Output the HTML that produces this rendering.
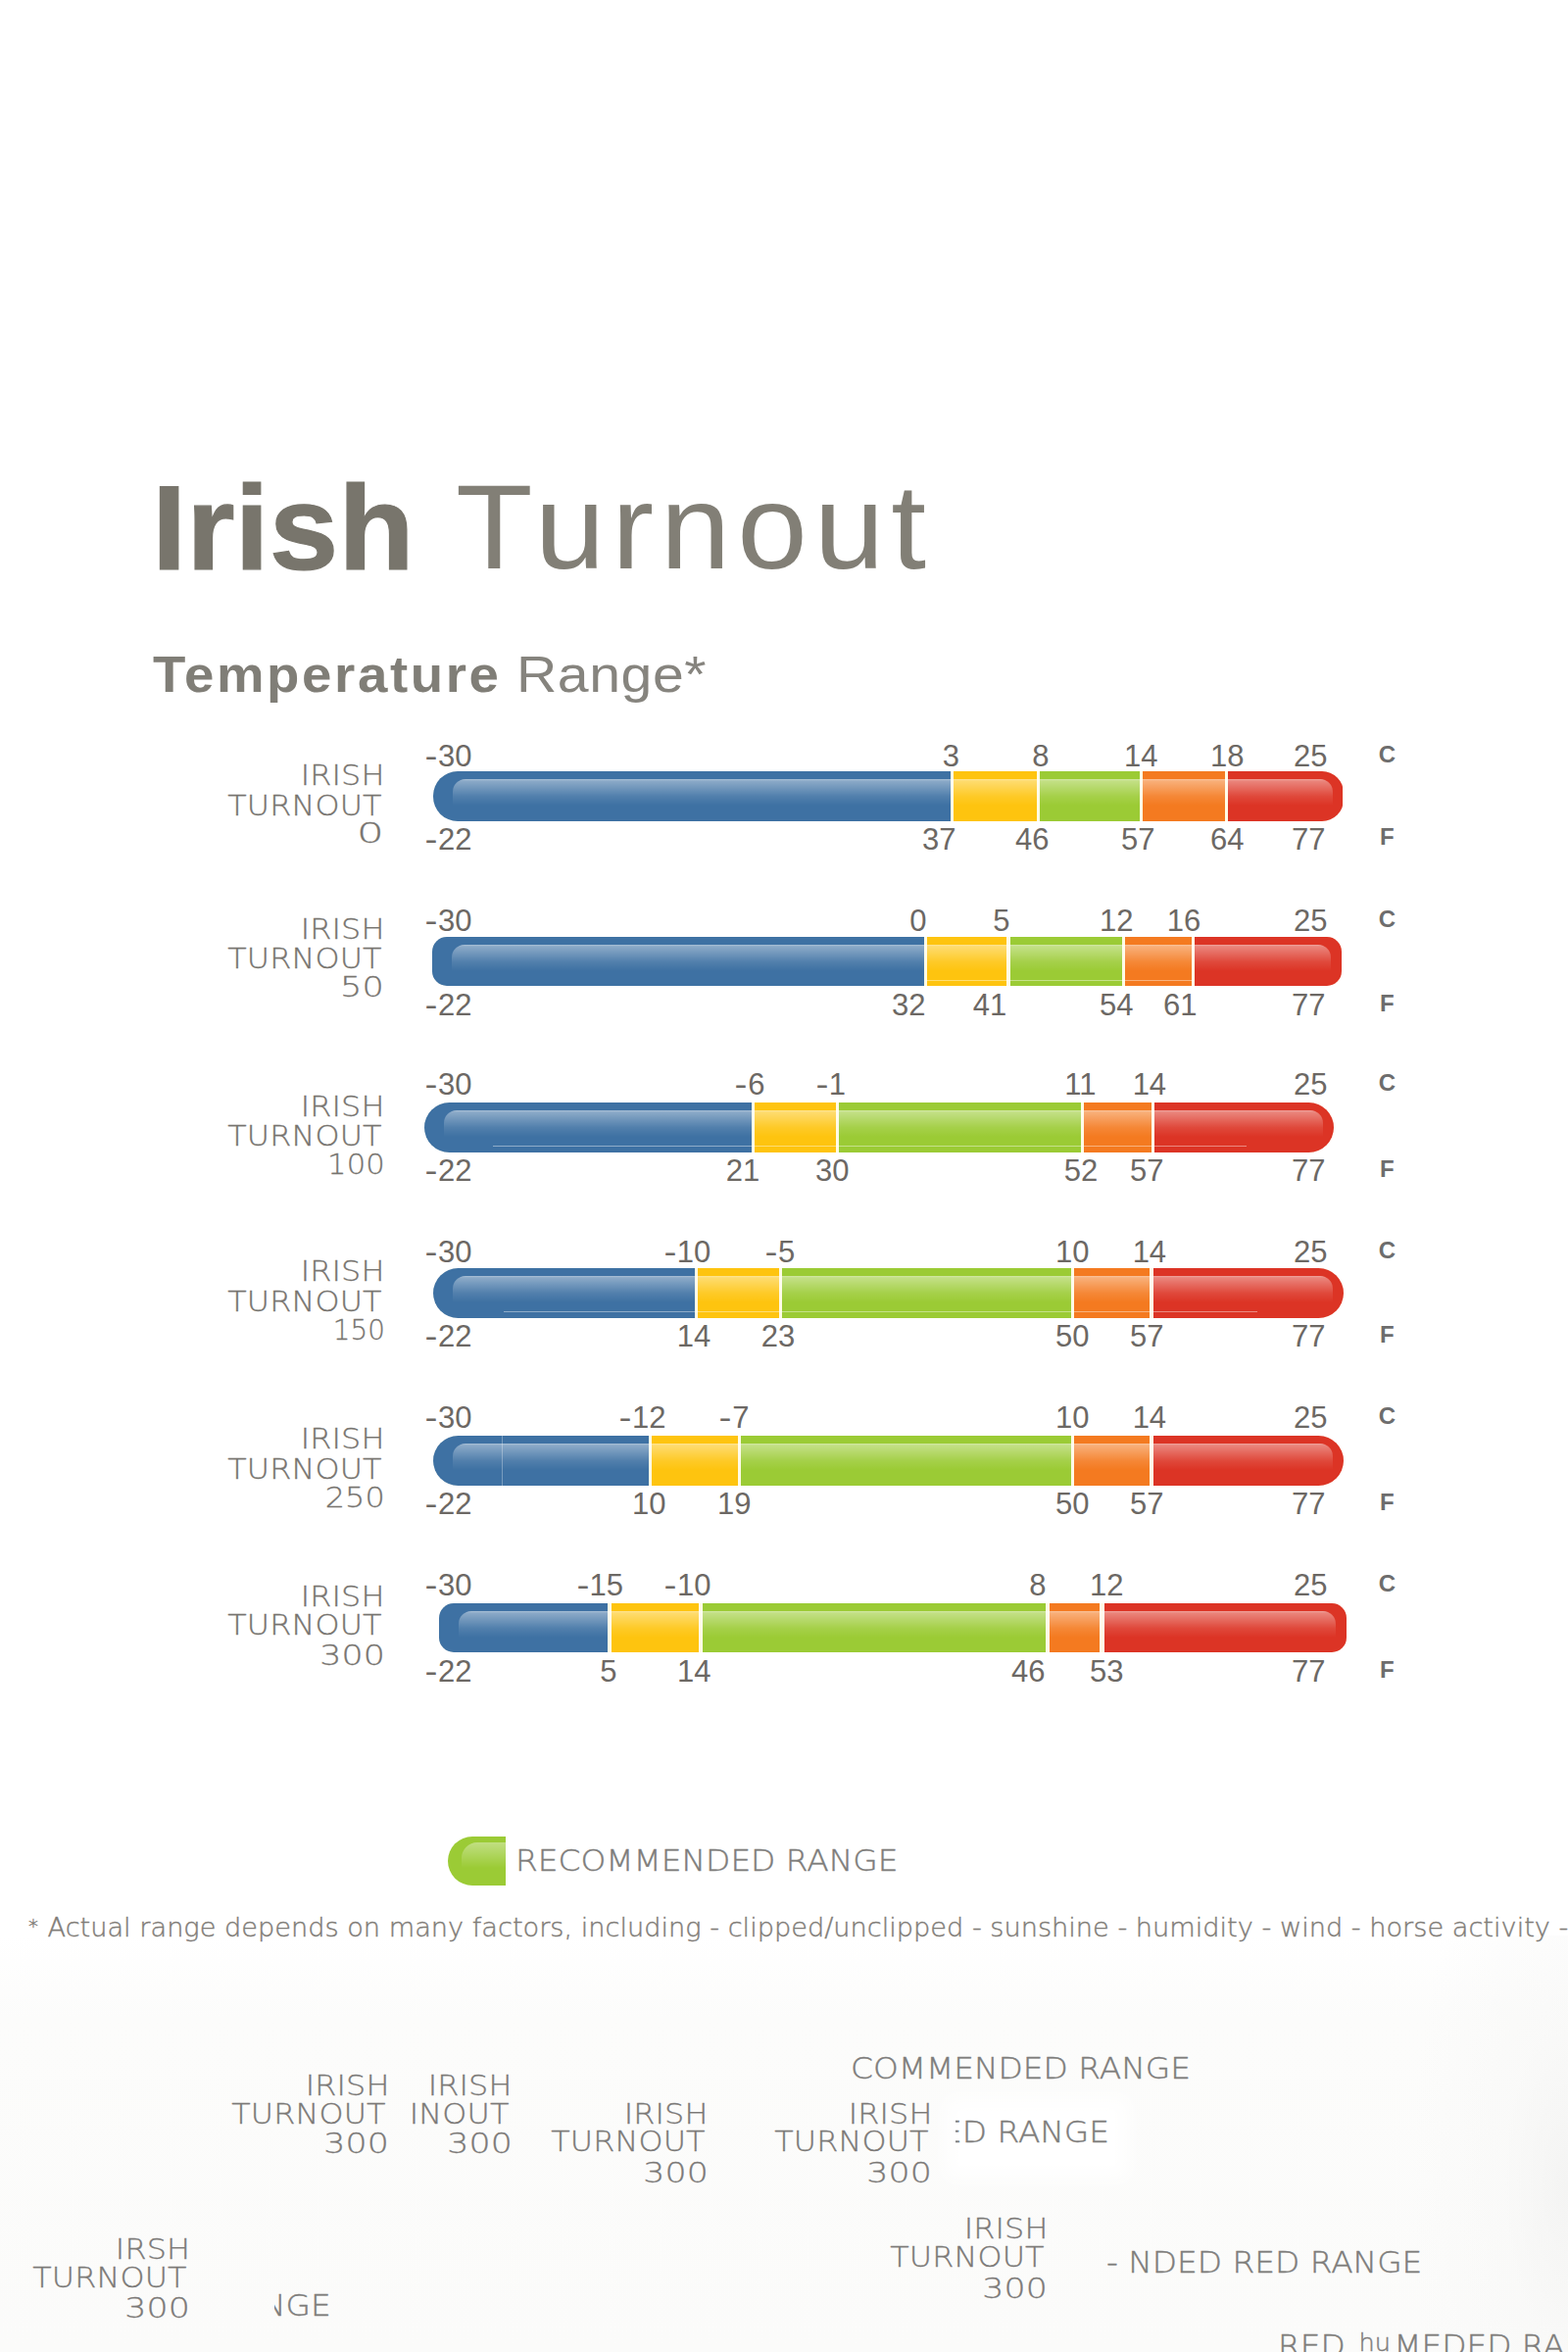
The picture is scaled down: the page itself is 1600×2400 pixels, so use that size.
<!DOCTYPE html>
<html lang="en"><head><meta charset="utf-8"><title>Irish Turnout Temperature Range</title>
<style>
html,body{margin:0;padding:0}
body{width:1600px;height:2400px;position:relative;overflow:hidden;background:#fff;font-family:"Liberation Sans",sans-serif}
.bg{position:absolute;left:0;top:1975px;width:1600px;height:425px;background:radial-gradient(ellipse 160px 420px at 100% 60%,rgba(243,243,242,.9) 0,rgba(247,247,246,.5) 40%,rgba(251,251,250,0) 100%),linear-gradient(180deg,#ffffff 0,#fcfcfb 20%,#fbfbfa 100%)}
.t1,.t2,.s1,.s2,.lab,.n,.u,.leg,.fn,.g{position:absolute;white-space:nowrap;line-height:1;margin:0}
.t1{left:155px;top:478.4px;font-size:122.5px;font-weight:bold;color:#78756c;-webkit-text-stroke:1.2px #78756c;transform:scaleX(1.035);transform-origin:0 0}
.t2{left:464.5px;top:476.6px;font-size:122px;color:#827f76;letter-spacing:6.5px;transform:scaleX(1.055);transform-origin:0 0}
.s1{left:155.8px;top:662.3px;font-size:52px;font-weight:bold;color:#807e77;letter-spacing:2.5px;transform:scaleX(1.05);transform-origin:0 0}
.s2{left:527px;top:662.3px;font-size:52px;color:#86847e;letter-spacing:.5px;transform:scaleX(1.1);transform-origin:0 0}
.bar{position:absolute;overflow:hidden}
.bar i{position:absolute;top:0;bottom:0;display:block}
.bar{background:#fffbe6}
.gl{position:absolute;left:20px;right:11px;top:8px;height:27px;border-radius:13px 13px 0 0;background:linear-gradient(180deg,rgba(255,255,255,.56) 0,rgba(255,255,255,.4) 7%,rgba(255,255,255,.27) 32%,rgba(255,255,255,.1) 65%,rgba(255,255,255,0) 100%)}
.lab{right:1211px;font-family:"DejaVu Sans","Liberation Sans",sans-serif;font-weight:200;font-size:28px;color:#77746f;-webkit-text-stroke:.3px #77746f;letter-spacing:.15px;text-align:right;transform:scaleX(1.136);transform-origin:100% 50%}
.n .h{display:inline-block;transform:scaleX(1.25);transform-origin:100% 50%;margin-right:.5px}
.n{font-size:31px;color:#6c6864;text-align:right;transform:translateY(-26.24px)}
.u{left:1406.8px;font-size:24px;font-weight:bold;color:#6d6d6d;transform:translateY(-20.3px)}
.lg{position:absolute;left:456.5px;top:1874px;width:59px;height:50px;border-radius:25px 0 0 25px;background:#9bcb35;overflow:hidden}
.lg b{position:absolute;left:14px;right:0;top:6px;height:26px;border-radius:16px 0 0 0;background:linear-gradient(180deg,rgba(255,255,255,.38) 0,rgba(255,255,255,0) 100%)}
.leg{left:525.5px;top:1884px;font-family:"DejaVu Sans","Liberation Sans",sans-serif;font-weight:200;font-size:30.7px;color:#7e7d7b;-webkit-text-stroke:.4px #7e7d7b;transform:scaleX(1.069);transform-origin:0 0}
.fn{left:29.3px;top:1953.2px;font-family:"DejaVu Sans","Liberation Sans",sans-serif;font-weight:200;font-size:27.4px;color:#7f7c77;-webkit-text-stroke:.4px #7f7c77;transform:scaleX(.992);transform-origin:0 0}
.g{font-family:"DejaVu Sans","Liberation Sans",sans-serif;font-weight:200;font-size:27.5px;color:#7d7b78;letter-spacing:1.5px;text-align:right;line-height:29.6px;white-space:pre}
.g2{color:#7b7977;-webkit-text-stroke-color:#7b7977}
.wb{position:absolute;left:978px;top:2154px;width:160px;height:56px;background:rgba(255,255,255,.85);box-shadow:0 0 18px 14px rgba(255,255,255,.85)}
.gr small{font-size:24px;vertical-align:5px;margin:0 3px}
.ast{font-size:20px;vertical-align:4px;margin-right:1px}
.ln{position:absolute;height:1px;background:rgba(255,255,255,.42)}
.clip{position:absolute;overflow:hidden;height:40px}
.gr{position:absolute;white-space:nowrap;line-height:1;font-family:"DejaVu Sans","Liberation Sans",sans-serif;font-weight:200;font-size:30.7px;color:#7e7d7b;-webkit-text-stroke:.4px #7e7d7b;transform:scaleX(1.069);transform-origin:0 0}
</style></head><body>
<div class="bg"></div>
<h1 class="t1">Irish</h1><div class="t2">Turnout</div>
<h2 class="s1">Temperature</h2><div class="s2">Range*</div>
<div class="bar" style="left:442px;top:787.2px;width:928.5px;height:50.8px;border-radius:25px 22px 22px 25px">
<i style="left:0.0px;width:527.5px;background:#3e71a3"></i>
<i style="left:530.5px;width:85.5px;background:#fec40f"></i>
<i style="left:619.0px;width:101.8px;background:#9bcb35"></i>
<i style="left:723.8px;width:84.4px;background:#f47a20"></i>
<i style="left:811.2px;width:117.3px;background:#dc3425"></i>
<b class="gl"></b></div>
<div class="lab" style="top:777.5px;right:1207.2px">IRISH</div>
<div class="lab" style="top:808.5px;right:1210.6px">TURNOUT</div>
<div class="lab" style="top:836.6px;right:1207.6px;transform:scaleX(1.556)">0</div>
<div class="n" style="right:1118.5px;top:782.0px"><span class="h">-</span>30</div>
<div class="n" style="right:621.0px;top:782.0px">3</div>
<div class="n" style="right:529.5px;top:782.0px">8</div>
<div class="n" style="right:418.5px;top:782.0px">14</div>
<div class="n" style="right:330.5px;top:782.0px">18</div>
<div class="n" style="right:245.5px;top:782.0px">25</div>
<div class="n" style="right:1118.5px;top:866.5px"><span class="h">-</span>22</div>
<div class="n" style="right:624.5px;top:866.5px">37</div>
<div class="n" style="right:529.5px;top:866.5px">46</div>
<div class="n" style="right:421.5px;top:866.5px">57</div>
<div class="n" style="right:330.5px;top:866.5px">64</div>
<div class="n" style="right:247.5px;top:866.5px">77</div>
<div class="u" style="top:778.4px">C</div>
<div class="u" style="top:862.1px;left:1408px">F</div>
<div class="bar" style="left:440.5px;top:956px;width:928.5px;height:49.5px;border-radius:15px 15px 15px 15px">
<i style="left:0.0px;width:502.8px;background:#3e71a3"></i>
<i style="left:505.8px;width:81.2px;background:#fec40f"></i>
<i style="left:590.0px;width:114.0px;background:#9bcb35"></i>
<i style="left:707.0px;width:68.5px;background:#f47a20"></i>
<i style="left:778.5px;width:150.0px;background:#dc3425"></i>
<b class="gl"></b></div>
<div class="lab" style="top:934.6px;right:1207.2px">IRISH</div>
<div class="lab" style="top:965.0px;right:1210.6px">TURNOUT</div>
<div class="lab" style="top:993.7px;right:1207.6px;transform:scaleX(1.250)">50</div>
<div class="n" style="right:1118.5px;top:949.5px"><span class="h">-</span>30</div>
<div class="n" style="right:654.5px;top:949.5px">0</div>
<div class="n" style="right:569.5px;top:949.5px">5</div>
<div class="n" style="right:443.5px;top:949.5px">12</div>
<div class="n" style="right:374.8px;top:949.5px">16</div>
<div class="n" style="right:245.5px;top:949.5px">25</div>
<div class="n" style="right:1118.5px;top:1036.0px"><span class="h">-</span>22</div>
<div class="n" style="right:655.5px;top:1036.0px">32</div>
<div class="n" style="right:572.8px;top:1036.0px">41</div>
<div class="n" style="right:443.5px;top:1036.0px">54</div>
<div class="n" style="right:378.5px;top:1036.0px">61</div>
<div class="n" style="right:247.5px;top:1036.0px">77</div>
<div class="u" style="top:945.9px">C</div>
<div class="u" style="top:1031.6px;left:1408px">F</div>
<div class="bar" style="left:432.7px;top:1125px;width:928.8px;height:51.0px;border-radius:25.5px 25.5px 25.5px 25.5px">
<i style="left:0.0px;width:334.3px;background:#3e71a3"></i>
<i style="left:337.3px;width:83.5px;background:#fec40f"></i>
<i style="left:423.8px;width:247.0px;background:#9bcb35"></i>
<i style="left:673.8px;width:69.0px;background:#f47a20"></i>
<i style="left:745.8px;width:183.0px;background:#dc3425"></i>
<b class="gl"></b></div>
<div class="lab" style="top:1115.5px;right:1207.2px">IRISH</div>
<div class="lab" style="top:1146.2px;right:1210.6px">TURNOUT</div>
<div class="lab" style="top:1175.2px;right:1207.6px;transform:scaleX(1.091)">100</div>
<div class="n" style="right:1118.5px;top:1117.0px"><span class="h">-</span>30</div>
<div class="n" style="right:819.5px;top:1117.0px"><span class="h">-</span>6</div>
<div class="n" style="right:737.0px;top:1117.0px"><span class="h">-</span>1</div>
<div class="n" style="right:481.5px;top:1117.0px">11</div>
<div class="n" style="right:409.9px;top:1117.0px">14</div>
<div class="n" style="right:245.5px;top:1117.0px">25</div>
<div class="n" style="right:1118.5px;top:1205.0px"><span class="h">-</span>22</div>
<div class="n" style="right:824.8px;top:1205.0px">21</div>
<div class="n" style="right:733.5px;top:1205.0px">30</div>
<div class="n" style="right:479.8px;top:1205.0px">52</div>
<div class="n" style="right:412.5px;top:1205.0px">57</div>
<div class="n" style="right:247.5px;top:1205.0px">77</div>
<div class="u" style="top:1113.4px">C</div>
<div class="u" style="top:1200.6px;left:1408px">F</div>
<div class="bar" style="left:442px;top:1294px;width:929.0px;height:51.0px;border-radius:25.5px 25.5px 25.5px 25.5px">
<i style="left:0.0px;width:266.5px;background:#3e71a3"></i>
<i style="left:269.5px;width:83.7px;background:#fec40f"></i>
<i style="left:356.2px;width:294.9px;background:#9bcb35"></i>
<i style="left:654.1px;width:77.4px;background:#f47a20"></i>
<i style="left:734.5px;width:194.5px;background:#dc3425"></i>
<b class="gl"></b></div>
<div class="lab" style="top:1284.4px;right:1207.2px">IRISH</div>
<div class="lab" style="top:1314.7px;right:1210.6px">TURNOUT</div>
<div class="lab" style="top:1344.3px;right:1207.6px;transform:scaleX(0.988)">150</div>
<div class="n" style="right:1118.5px;top:1288.0px"><span class="h">-</span>30</div>
<div class="n" style="right:874.8px;top:1288.0px"><span class="h">-</span>10</div>
<div class="n" style="right:788.7px;top:1288.0px"><span class="h">-</span>5</div>
<div class="n" style="right:488.5px;top:1288.0px">10</div>
<div class="n" style="right:409.9px;top:1288.0px">14</div>
<div class="n" style="right:245.5px;top:1288.0px">25</div>
<div class="n" style="right:1118.5px;top:1374.0px"><span class="h">-</span>22</div>
<div class="n" style="right:874.8px;top:1374.0px">14</div>
<div class="n" style="right:788.7px;top:1374.0px">23</div>
<div class="n" style="right:488.5px;top:1374.0px">50</div>
<div class="n" style="right:412.5px;top:1374.0px">57</div>
<div class="n" style="right:247.5px;top:1374.0px">77</div>
<div class="u" style="top:1284.4px">C</div>
<div class="u" style="top:1369.6px;left:1408px">F</div>
<div class="bar" style="left:442px;top:1465px;width:929.0px;height:51.0px;border-radius:25.5px 25.5px 25.5px 25.5px">
<i style="left:0.0px;width:220.0px;background:#3e71a3"></i>
<i style="left:223.0px;width:88.2px;background:#fec40f"></i>
<i style="left:314.2px;width:336.9px;background:#9bcb35"></i>
<i style="left:654.1px;width:77.4px;background:#f47a20"></i>
<i style="left:734.5px;width:194.5px;background:#dc3425"></i>
<b class="gl"></b></div>
<div class="lab" style="top:1455.2px;right:1207.2px">IRISH</div>
<div class="lab" style="top:1486.2px;right:1210.6px">TURNOUT</div>
<div class="lab" style="top:1515.4px;right:1207.6px;transform:scaleX(1.136)">250</div>
<div class="n" style="right:1118.5px;top:1457.0px"><span class="h">-</span>30</div>
<div class="n" style="right:920.5px;top:1457.0px"><span class="h">-</span>12</div>
<div class="n" style="right:835.5px;top:1457.0px"><span class="h">-</span>7</div>
<div class="n" style="right:488.5px;top:1457.0px">10</div>
<div class="n" style="right:409.9px;top:1457.0px">14</div>
<div class="n" style="right:245.5px;top:1457.0px">25</div>
<div class="n" style="right:1118.5px;top:1545.0px"><span class="h">-</span>22</div>
<div class="n" style="right:920.5px;top:1545.0px">10</div>
<div class="n" style="right:833.5px;top:1545.0px">19</div>
<div class="n" style="right:488.5px;top:1545.0px">50</div>
<div class="n" style="right:412.5px;top:1545.0px">57</div>
<div class="n" style="right:247.5px;top:1545.0px">77</div>
<div class="u" style="top:1453.4px">C</div>
<div class="u" style="top:1540.6px;left:1408px">F</div>
<div class="bar" style="left:448px;top:1636px;width:926.0px;height:50.0px;border-radius:15px 15px 15px 15px">
<i style="left:0.0px;width:171.8px;background:#3e71a3"></i>
<i style="left:176.2px;width:88.5px;background:#fec40f"></i>
<i style="left:269.2px;width:349.5px;background:#9bcb35"></i>
<i style="left:623.2px;width:51.0px;background:#f47a20"></i>
<i style="left:678.8px;width:247.2px;background:#dc3425"></i>
<b class="gl"></b></div>
<div class="lab" style="top:1616.3px;right:1207.2px">IRISH</div>
<div class="lab" style="top:1644.7px;right:1210.6px">TURNOUT</div>
<div class="lab" style="top:1675.5px;right:1207.6px;transform:scaleX(1.238)">300</div>
<div class="n" style="right:1118.5px;top:1628.0px"><span class="h">-</span>30</div>
<div class="n" style="right:964.0px;top:1628.0px"><span class="h">-</span>15</div>
<div class="n" style="right:874.5px;top:1628.0px"><span class="h">-</span>10</div>
<div class="n" style="right:532.5px;top:1628.0px">8</div>
<div class="n" style="right:453.5px;top:1628.0px">12</div>
<div class="n" style="right:245.5px;top:1628.0px">25</div>
<div class="n" style="right:1118.5px;top:1716.0px"><span class="h">-</span>22</div>
<div class="n" style="right:970.5px;top:1716.0px">5</div>
<div class="n" style="right:874.5px;top:1716.0px">14</div>
<div class="n" style="right:533.5px;top:1716.0px">46</div>
<div class="n" style="right:453.5px;top:1716.0px">53</div>
<div class="n" style="right:247.5px;top:1716.0px">77</div>
<div class="u" style="top:1624.4px">C</div>
<div class="u" style="top:1711.6px;left:1408px">F</div>
<div class="ln" style="left:945px;width:272px;top:999.5px"></div>
<div class="ln" style="left:503px;width:769px;top:1168.5px"></div>
<div class="ln" style="left:514px;width:769px;top:1337.5px"></div>
<div class="ln" style="left:512px;width:1px;top:1465px;height:51px;background:rgba(255,255,255,.3)"></div>
<div class="lg"><b></b></div>
<div class="leg">RECOMMENDED RANGE</div>
<div class="fn"><span class="ast">*</span> Actual range depends on many factors, including - clipped/unclipped - sunshine - humidity - wind - horse activity -</div>
<div class="lab g2" style="top:2114.7px;right:1202.7px">IRISH</div>
<div class="lab g2" style="top:2143.9px;right:1206.1px">TURNOUT</div>
<div class="lab g2" style="top:2174.4px;right:1203.1px;transform:scaleX(1.238)">300</div>
<div class="lab g2" style="top:2114.7px;right:1077.2px">IRISH</div>
<div class="lab g2" style="top:2143.9px;right:1080.6px">INOUT</div>
<div class="lab g2" style="top:2174.4px;right:1077.6px;transform:scaleX(1.238)">300</div>
<div class="lab g2" style="top:2143.7px;right:877.2px">IRISH</div>
<div class="lab g2" style="top:2172.3px;right:880.6px">TURNOUT</div>
<div class="lab g2" style="top:2203.7px;right:877.6px;transform:scaleX(1.238)">300</div>
<div class="lab g2" style="top:2143.7px;right:648.5px">IRISH</div>
<div class="lab g2" style="top:2172.3px;right:651.9px">TURNOUT</div>
<div class="lab g2" style="top:2203.7px;right:648.9px;transform:scaleX(1.238)">300</div>
<div class="lab g2" style="top:2261.1px;right:530.6px">IRISH</div>
<div class="lab g2" style="top:2290.2px;right:534.0px">TURNOUT</div>
<div class="lab g2" style="top:2321.6px;right:531.0px;transform:scaleX(1.238)">300</div>
<div class="lab g2" style="top:2282.4px;right:1406.2px">IRSH</div>
<div class="lab g2" style="top:2311.0px;right:1409.6px">TURNOUT</div>
<div class="lab g2" style="top:2341.6px;right:1406.6px;transform:scaleX(1.238)">300</div>
<div class="gr" style="left:868px;top:2095.8px">COMMENDED RANGE</div>
<div class="gr" style="left:1128.5px;top:2293.8px">- NDED RED RANGE</div>
<div class="gr" style="left:1304px;top:2379.3px">RED <small>hu</small>MEDED RANGE</div>
<div class="wb"></div>
<div class="clip" style="left:975px;top:2160px;width:200px"><div class="gr" style="left:-14px;top:.8px">ED RANGE</div></div>
<div class="clip" style="left:280px;top:2337.8px;width:70px"><div class="gr" style="left:-13px;top:0">NGE</div></div>
</body></html>
